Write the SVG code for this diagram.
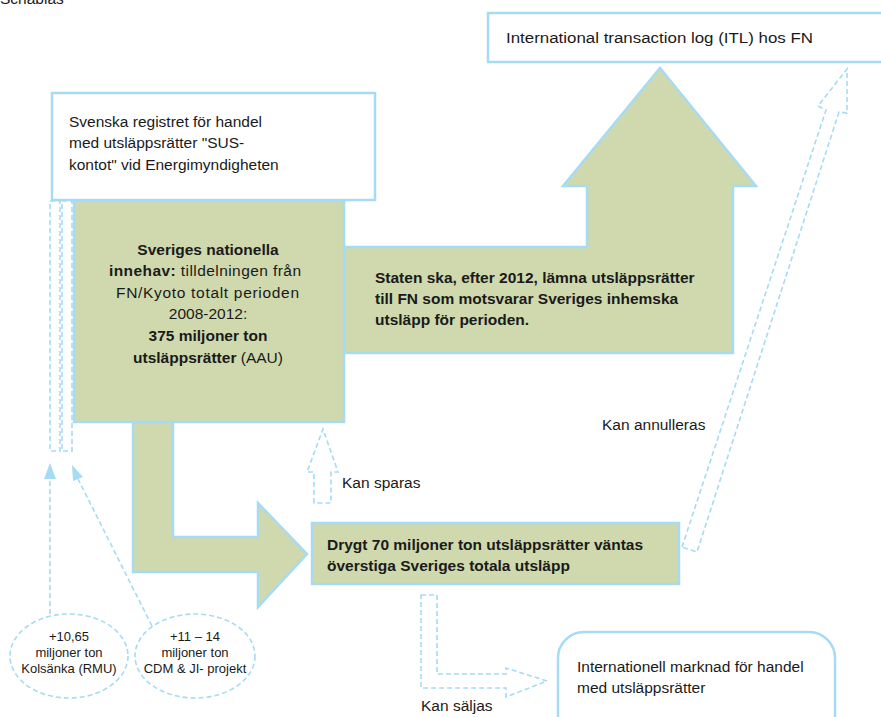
<svg xmlns="http://www.w3.org/2000/svg" width="881" height="717" viewBox="0 0 881 717">
<style>
text{font-family:"Liberation Sans",Arial,sans-serif;font-size:15.5px;fill:#1a1a1a}
.b{font-weight:bold}
.sm{font-size:13px}
.box{fill:#fff;stroke:#a6dbf3;stroke-width:2.5}
.green{fill:#cfd9ad;stroke:#a6dbf3;stroke-width:2.5}
.dash{fill:none;stroke:#a6dbf3;stroke-width:1.6;stroke-dasharray:5 3}
.dashw{fill:#fff;stroke:#a6dbf3;stroke-width:1.6;stroke-dasharray:5 3}
</style>
<text x="0" y="4">Schablas</text>

<g id="connectors">
<polygon id="l-arrow" class="green" points="133,420 173,420 173,537 258,537 258,503 307,554 258,607 258,572 133,572"/>
<polygon id="up-arrow" class="green" points="344,247 587,247 587,186 563,186 660,68 756,186 733,186 733,353 344,353"/>
<rect class="dash" x="50" y="201" width="10" height="250"/>
<rect class="dash" x="62" y="201" width="10" height="250"/>
<line class="dash" x1="50" y1="614" x2="50" y2="479" />
<path d="M50,463 L56,479 L44,479 Z" fill="#a6dbf3"/>
<line class="dash" x1="152" y1="626" x2="78" y2="479"/>
<path d="M72,465 L83,477 L73,481 Z" fill="#a6dbf3"/>
<polygon id="kan-sparas" class="dash" points="314,503 314,472 307,472 323,429 338,472 331,472 331,503"/>
<polygon id="kan-annulleras" class="dash" points="682,547 826,110 818,106 847,69 847,113 839,112 697,552"/>
<polygon id="kan-saljas" class="dash" points="421,595 437,595 437,674 506,674 506,668 547,681 506,697 506,688 421,688"/>
<text x="342" y="488">Kan sparas</text>
<text x="602" y="430">Kan annulleras</text>
<text x="421" y="711">Kan säljas</text>
</g>

<g id="itl">
<rect class="box" x="488" y="13" width="400" height="49"/>
<text x="506" y="43" textLength="307" lengthAdjust="spacingAndGlyphs">International transaction log (ITL) hos FN</text>
</g>

<g id="svenska-registret">
<rect class="box" x="52" y="93" width="323" height="107"/>
<text x="69" y="127">Svenska registret för handel</text>
<text x="69" y="148">med utsläppsrätter "SUS-</text>
<text x="69" y="170">kontot" vid Energimyndigheten</text>
</g>

<g id="nationella-innehav">
<rect class="green" x="74" y="201" width="270" height="221"/>
<text text-anchor="middle" x="208" y="255" class="b">Sveriges nationella</text>
<text x="109" y="276" textLength="192" lengthAdjust="spacing"><tspan class="b">innehav:</tspan> tilldelningen från</text>
<text x="116" y="298" textLength="183" lengthAdjust="spacing">FN/Kyoto totalt perioden</text>
<text text-anchor="middle" x="208" y="319">2008-2012:</text>
<text text-anchor="middle" x="208" y="341" class="b">375 miljoner ton</text>
<text text-anchor="middle" x="208" y="363"><tspan class="b">utsläppsrätter</tspan> (AAU)</text>
</g>

<g id="staten-ska">
<text x="375" y="283" class="b">Staten ska, efter 2012, lämna utsläppsrätter</text>
<text x="375" y="304" class="b">till FN som motsvarar Sveriges inhemska</text>
<text x="375" y="325" class="b">utsläpp för perioden.</text>
</g>

<g id="overskott">
<rect class="green" x="312" y="523" width="367" height="61"/>
<text x="327" y="550" class="b">Drygt 70 miljoner ton utsläppsrätter väntas</text>
<text x="327" y="571" class="b">överstiga Sveriges totala utsläpp</text>
</g>

<g id="marknad">
<rect class="box" x="558" y="632" width="277" height="110" rx="26"/>
<text x="577" y="672">Internationell marknad för handel</text>
<text x="577" y="693">med utsläppsrätter</text>
</g>

<g id="kolsanka">
<ellipse class="dashw" cx="69" cy="656" rx="59" ry="42"/>
<text class="sm" text-anchor="middle" x="69" y="641">+10,65</text>
<text class="sm" text-anchor="middle" x="69" y="657">miljoner ton</text>
<text class="sm" text-anchor="middle" x="69" y="673">Kolsänka (RMU)</text>
</g>

<g id="cdm-ji">
<ellipse class="dashw" cx="195" cy="656" rx="60" ry="42"/>
<text class="sm" text-anchor="middle" x="195" y="641">+11 – 14</text>
<text class="sm" text-anchor="middle" x="195" y="657">miljoner ton</text>
<text class="sm" text-anchor="middle" x="195" y="673">CDM &amp; JI- projekt</text>
</g>
</svg>
